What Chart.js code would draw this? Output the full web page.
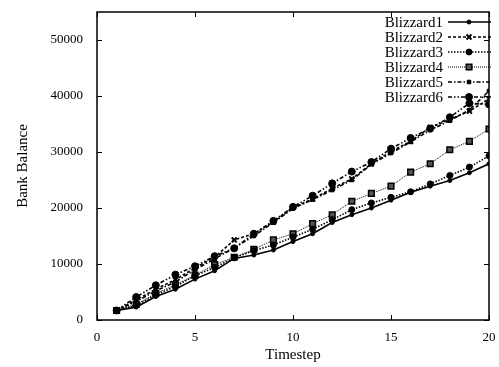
<!DOCTYPE html>
<html>
<head>
<meta charset="utf-8">
<script src="https://cdn.jsdelivr.net/npm/chart.js@4.4.0/dist/chart.umd.min.js"></script>
<style>
  html, body { margin: 0; padding: 0; background: #fff; }
  #wrap { width: 499px; height: 367px; }
</style>
</head>
<body>
<div id="wrap"><canvas id="chart" width="499" height="367"></canvas></div>
<script>
//data
const timesteps = [1, 2, 3, 4, 5, 6, 7, 8, 9, 10, 11, 12, 13, 14, 15, 16, 17, 18, 19, 20];
const blizzard1 = [1700, 2300, 4200, 5500, 7300, 8800, 11000, 11600, 12500, 14000, 15400, 17400, 18800, 20000, 21400, 22800, 23900, 24900, 26300, 27900];
const blizzard2 = [1700, 3600, 5500, 7200, 9300, 11200, 14300, 15400, 17500, 20100, 21600, 23500, 25200, 27900, 30100, 31900, 34400, 35800, 37300, 39500];
const blizzard3 = [1700, 2600, 4500, 6000, 7900, 9400, 11100, 12400, 13400, 14800, 16200, 17900, 19700, 20900, 21900, 22900, 24300, 25800, 27300, 29300];
const blizzard4 = [1700, 2800, 4700, 6300, 8000, 9900, 11200, 12600, 14300, 15400, 17200, 18800, 21200, 22600, 23900, 26400, 27900, 30400, 31900, 34100];
const blizzard5 = [1700, 3300, 5200, 6800, 9000, 10900, 12900, 15000, 17400, 19900, 21500, 23200, 25000, 27800, 29800, 31800, 33900, 35600, 37500, 40900];
const blizzard6 = [1700, 4100, 6200, 8100, 9600, 11400, 12800, 15400, 17700, 20200, 22200, 24400, 26500, 28200, 30600, 32500, 34200, 36200, 38700, 38500];
const xTicks = [0, 5, 10, 15, 20];
const yTicks = [0, 10000, 20000, 30000, 40000, 50000];

const font = "Liberation Serif";

function pts(values) {
  return values.map((v, i) => ({ x: timesteps[i], y: v }));
}

//frame, inward ticks and the legend drawn the gnuplot way
const framePlugin = {
  id: "frame",
  afterDraw(chart) {
    const ctx = chart.ctx;
    const a = chart.chartArea;
    const xs = chart.scales.x;
    const ys = chart.scales.y;
    ctx.save();
    ctx.strokeStyle = "#000";
    ctx.lineWidth = 1.5;
    ctx.strokeRect(a.left, a.top, a.right - a.left, a.bottom - a.top);
    ctx.lineWidth = 1;
    ctx.beginPath();
    xTicks.forEach((t) => {
      const px = Math.round(xs.getPixelForValue(t)) + 0.5;
      ctx.moveTo(px, a.bottom); ctx.lineTo(px, a.bottom - 5);
      ctx.moveTo(px, a.top); ctx.lineTo(px, a.top + 5);
    });
    yTicks.forEach((t) => {
      const py = Math.round(ys.getPixelForValue(t)) + 0.5;
      ctx.moveTo(a.left, py); ctx.lineTo(a.left + 5, py);
      ctx.moveTo(a.right, py); ctx.lineTo(a.right - 5, py);
    });
    ctx.stroke();

    //legend
    ctx.font = "15px '" + font + "'";
    ctx.textAlign = "right";
    ctx.textBaseline = "middle";
    chart.data.datasets.forEach((ds, i) => {
      const y = 22 + i * 15;
      ctx.fillStyle = "#000";
      ctx.fillText(ds.label, 443, y + 1);
      ctx.strokeStyle = "#000";
      ctx.lineWidth = ds.borderWidth;
      ctx.setLineDash(ds.borderDash);
      ctx.beginPath();
      ctx.moveTo(448, y); ctx.lineTo(491, y);
      ctx.stroke();
      ctx.setLineDash([]);
      ctx.fillStyle = ds.pointBackgroundColor;
      ctx.strokeStyle = ds.pointBorderColor;
      ctx.lineWidth = ds.pointBorderWidth;
      Chart.helpers.drawPoint(ctx, {
        pointStyle: ds.pointStyle, radius: ds.pointRadius, rotation: 0,
        borderWidth: ds.pointBorderWidth
      }, 469, y);
    });
    ctx.restore();
  },
};

function noPad(s) {
  s.paddingTop = 0;
  s.paddingBottom = 0;
  s.paddingLeft = 0;
  s.paddingRight = 0;
}

const ctx = document.getElementById("chart").getContext("2d");
const myChart = new Chart(ctx, {
  type: "line",
  data: {
    datasets: [
      {
        label: "Blizzard1", data: pts(blizzard1),
        borderColor: "#000", borderWidth: 1.6, borderDash: [],
        pointStyle: "circle", pointRadius: 2, pointBackgroundColor: "#000", pointBorderColor: "#000", pointBorderWidth: 1,
      },
      {
        label: "Blizzard2", data: pts(blizzard2),
        borderColor: "#000", borderWidth: 1.6, borderDash: [3, 2],
        pointStyle: "crossRot", pointRadius: 3.5, pointBackgroundColor: "#000", pointBorderColor: "#000", pointBorderWidth: 2,
      },
      {
        label: "Blizzard3", data: pts(blizzard3),
        borderColor: "#000", borderWidth: 1.6, borderDash: [1.5, 1.5],
        pointStyle: "circle", pointRadius: 3, pointBackgroundColor: "#000", pointBorderColor: "#000", pointBorderWidth: 1,
      },
      {
        label: "Blizzard4", data: pts(blizzard4),
        borderColor: "#000", borderWidth: 1, borderDash: [1, 1],
        pointStyle: "rect", pointRadius: 4, pointBackgroundColor: "#555", pointBorderColor: "#000", pointBorderWidth: 1.5,
      },
      {
        label: "Blizzard5", data: pts(blizzard5),
        borderColor: "#000", borderWidth: 1.6, borderDash: [4, 2, 1.5, 2],
        pointStyle: "rect", pointRadius: 2.5, pointBackgroundColor: "#000", pointBorderColor: "#000", pointBorderWidth: 1,
      },
      {
        label: "Blizzard6", data: pts(blizzard6),
        borderColor: "#000", borderWidth: 1.6, borderDash: [4, 2, 1.5, 2, 1.5, 2],
        pointStyle: "circle", pointRadius: 3.5, pointBackgroundColor: "#000", pointBorderColor: "#000", pointBorderWidth: 1,
      },
    ],
  },
  options: {
    responsive: false,
    animation: false,
    layout: { padding: { left: 0, right: 10, top: 12, bottom: 0 } },
    plugins: { legend: { display: false }, tooltip: { enabled: false } },
    elements: { line: { tension: 0 } },
    scales: {
      x: {
        type: "linear", min: 0, max: 20,
        afterBuildTicks: (s) => { s.ticks = xTicks.map((v) => ({ value: v })); },
        afterFit: (s) => { s.height = 47; noPad(s); },
        grid: { display: false, drawTicks: false },
        border: { display: false },
        ticks: { color: "#000", font: { family: font, size: 13 }, padding: 10, maxRotation: 0 },
        title: { display: true, text: "Timestep", color: "#000", font: { family: font, size: 15 }, padding: { top: 0, bottom: 3 } },
      },
      y: {
        type: "linear", min: 0, max: 55000,
        afterBuildTicks: (s) => { s.ticks = yTicks.map((v) => ({ value: v })); },
        afterFit: (s) => { s.width = 97; noPad(s); },
        grid: { display: false, drawTicks: false },
        border: { display: false },
        ticks: { color: "#000", font: { family: font, size: 13 }, padding: 14, callback: (v) => String(v) },
        title: { display: true, text: "Bank Balance", color: "#000", font: { family: font, size: 15 }, padding: { top: 14, bottom: 0 } },
      },
    },
  },
  plugins: [framePlugin],
});
</script>
</body>
</html>
